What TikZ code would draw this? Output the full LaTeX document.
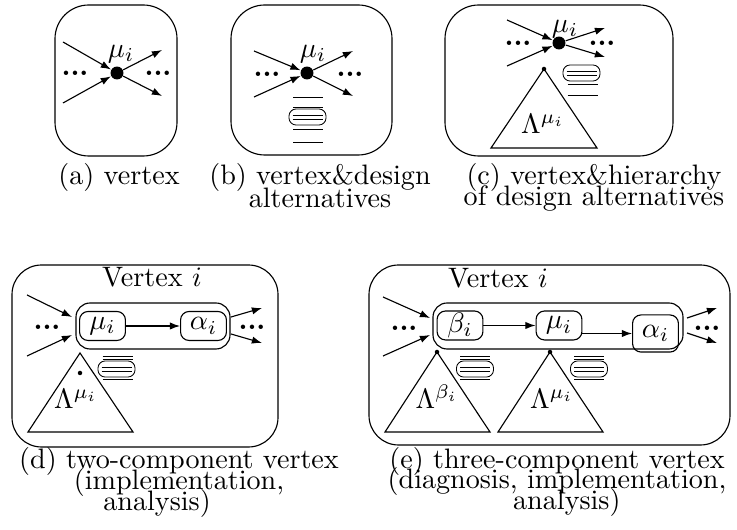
\documentclass[tikz,border=0pt]{standalone}
\usepackage{amsmath}
\usepackage{tikz}
\usetikzlibrary{arrows.meta,positioning}

\begin{document}
\begin{tikzpicture}[x=0.0125cm, y=-0.0125cm,
  vframe/.style={draw, rounded corners=12pt},
  vdot/.style={circle, fill, inner sep=0pt, minimum size=4.6pt},
  tdot/.style={circle, fill, inner sep=0pt, minimum size=1.6pt},
  comp/.style={draw, rounded corners=3pt, inner sep=0pt,
               minimum width=16.3pt, minimum height=10.3pt},
  cont/.style={draw, rounded corners=5pt},
  dots/.style={inner sep=0pt, font=\bfseries},
  lbl/.style={inner sep=0pt},
  captxt/.style={anchor=north, align=center, inner sep=0pt},
  arr/.style={-{Latex[length=3.6pt,width=2.6pt]}},
  altsel/.pic={\draw[line width=0.3pt, rounded corners=2.5pt] (-18.5,-8) rectangle (18.5,8);
               \draw[line width=0.3pt] (-15,-2) -- (15,-2) (-15,2) -- (15,2);},
  altline/.pic={\draw[line width=0.3pt] (-15,0) -- (15,0);}
]
  \useasboundingbox (0,0) rectangle (737,530);

  % (a) vertex
  \draw[vframe] (55,5) rectangle (177,156);
  \node[vdot] (adot) at (117,73) {};
  \node[lbl] (amu) at (121,54) {$\mu_i$};
  \coordinate (ain1) at (63,42);
  \coordinate (ain2) at (63,103);
  \coordinate (aout1) at (162,50);
  \coordinate (aout2) at (162,96);
  \draw[arr] (ain1) -- (adot);
  \draw[arr] (ain2) -- (adot);
  \draw[arr] (adot) -- (aout1);
  \draw[arr] (adot) -- (aout2);
  \node[dots] (aleft) at (75,73) {...};
  \node[dots] (aright) at (158,73) {...};
  \node[captxt] (acap) at (119,163) {(a) vertex};

  % (b) vertex & design alternatives
  \draw[vframe] (231,5) rectangle (392,155);
  \node[vdot] (bdot) at (307,73) {};
  \node[lbl] (bmu) at (313,54) {$\mu_i$};
  \coordinate (bin1) at (254,51);
  \coordinate (bin2) at (254,97);
  \coordinate (bout1) at (353,51);
  \coordinate (bout2) at (353,96);
  \draw[arr] (bin1) -- (bdot);
  \draw[arr] (bin2) -- (bdot);
  \draw[arr] (bdot) -- (bout1);
  \draw[arr] (bdot) -- (bout2);
  \node[dots] (bleft) at (267,74) {...};
  \node[dots] (bright) at (350,74) {...};
  \pic at (308,97) {altline};
  \pic at (308,107) {altline};
  \pic at (307.5,117) {altsel};
  \pic at (308,129) {altline};
  \pic at (308,142) {altline};
  \node[captxt] (bcap) at (320,163) {(b) vertex\&design\\[-3.8pt]alternatives};

  % (c) vertex & hierarchy
  \draw[vframe] (445,5) rectangle (673,156);
  \node[vdot] (cdot) at (559,43) {};
  \node[lbl] (cmu) at (565,29) {$\mu_i$};
  \coordinate (cin1) at (507,20);
  \coordinate (cin2) at (507,66);
  \coordinate (cout1) at (605,28);
  \coordinate (cout2) at (605,57);
  \draw[arr] (cin1) -- (cdot);
  \draw[arr] (cin2) -- (cdot);
  \draw[arr] (cdot) -- (cout1);
  \draw[arr] (cdot) -- (cout2);
  \node[dots] (cleft) at (518,43) {...};
  \node[dots] (cright) at (602,43) {...};
  \node[tdot] (capex) at (544,69) {};
  \draw (capex.center) -- (491,148) -- (597,148) -- cycle;
  \node[lbl, anchor=base] (clam) at (543,134) {$\Lambda^{\mu_i}$};
  \pic at (581.5,73) {altsel};
  \pic at (582.5,84) {altline};
  \pic at (582.5,95) {altline};
  \node[captxt] (ccap) at (594,163) {(c) vertex\&hierarchy\\[-4.5pt]of design alternatives};

  % (d) two-component vertex
  \draw[vframe, rounded corners=10.5pt] (12,265) rectangle (278,447);
  \node[lbl, anchor=base] (dtitle) at (152,287) {Vertex $i$};
  \draw[cont] (76,303) rectangle (230,349);
  \node[comp] (dmu) at (102.5,326) {$\mu_i$};
  \node[comp] (dalpha) at (203.5,326) {$\alpha_i$};
  \draw[arr] (dmu) -- (dalpha);
  \coordinate (din1) at (27,295);   \coordinate (din1t) at (72,317);
  \coordinate (din2) at (27,356);   \coordinate (din2t) at (72,335);
  \coordinate (dout1s) at (231,317); \coordinate (dout1) at (262,308);
  \coordinate (dout2s) at (231,334); \coordinate (dout2) at (262,343);
  \draw[arr] (din1) -- (din1t);
  \draw[arr] (din2) -- (din2t);
  \draw[arr] (dout1s) -- (dout1);
  \draw[arr] (dout2s) -- (dout2);
  \node[dots] (dleft) at (47,327) {...};
  \node[dots] (dright) at (252,327) {...};
  \coordinate (dapex) at (80,353);
  \draw (dapex) -- (28,432) -- (133,432) -- cycle;
  \node[tdot] (dtdot) at (80,373) {};
  \node[lbl, anchor=base] (dlam) at (76,409) {$\Lambda^{\mu_i}$};
  \pic at (117.5,356) {altline};
  \pic at (117.5,359) {altline};
  \pic at (116.5,369) {altsel};
  \pic at (117.5,379) {altline};
  \node[captxt] (dcap) at (179,447) {(d) two-component vertex\\[-4.5pt](implementation,\hspace*{10pt}\\[-4.5pt]analysis)\hspace*{15.6pt}};

  % (e) three-component vertex
  \draw[vframe, rounded corners=10.5pt] (369,265) rectangle (730,445);
  \node[lbl, anchor=base] (etitle) at (498,288) {Vertex $i$};
  \draw[cont] (433,303) rectangle (683,349);
  \node[comp] (ebeta) at (460,325.5) {$\beta_i$};
  \node[comp] (emu) at (559,325.5) {$\mu_i$};
  \node[comp, minimum height=13.2pt] (ealpha) at (655.5,333.5) {$\alpha_i$};
  \draw[arr] (ebeta) -- (emu);
  \draw[arr] (emu.east |- ealpha) -- (ealpha);
  \coordinate (ein1) at (383,297);   \coordinate (ein1t) at (430,318);
  \coordinate (ein2) at (383,356);   \coordinate (ein2t) at (430,335);
  \coordinate (eout1s) at (687,318); \coordinate (eout1) at (717,308);
  \coordinate (eout2s) at (687,333); \coordinate (eout2) at (717,343);
  \draw[arr] (ein1) -- (ein1t);
  \draw[arr] (ein2) -- (ein2t);
  \draw[arr] (eout1s) -- (eout1);
  \draw[arr] (eout2s) -- (eout2);
  \node[dots] (eleft) at (404,328) {...};
  \node[dots] (eright) at (707,328) {...};
  \node[tdot] (ebapex) at (437,352) {};
  \draw (ebapex.center) -- (385,432) -- (490,432) -- cycle;
  \node[tdot] (emapex) at (550,352) {};
  \draw (emapex.center) -- (498,432) -- (603,432) -- cycle;
  \node[lbl, anchor=base] (eblam) at (437,409) {$\Lambda^{\beta_i}$};
  \node[lbl, anchor=base] (emlam) at (552,409) {$\Lambda^{\mu_i}$};
  \pic at (475,356) {altline};
  \pic at (475,359) {altline};
  \pic at (475,369) {altsel};
  \pic at (475,379) {altline};
  \pic at (589,356) {altline};
  \pic at (589,359) {altline};
  \pic at (589,369) {altsel};
  \pic at (589,379) {altline};
  \node[captxt] (ecap) at (557,447) {(e) three-component vertex\\[-4.8pt](diagnosis, implementation,\\[-4.8pt]\hspace*{7pt}analysis)};
\end{tikzpicture}
\end{document}
